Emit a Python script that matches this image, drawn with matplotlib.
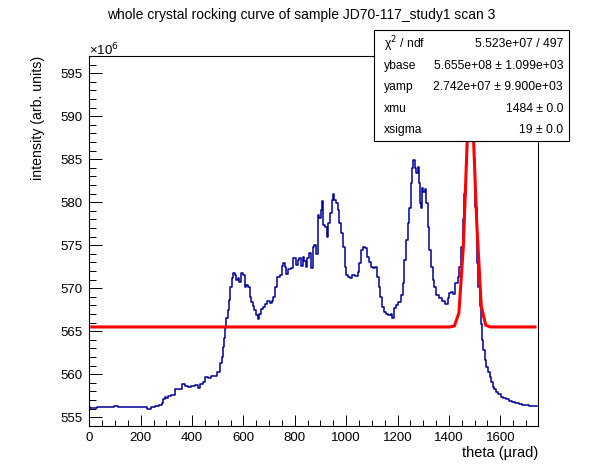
import numpy as np
import matplotlib
matplotlib.use('Agg')
from matplotlib import pyplot as plt
from matplotlib.patches import Rectangle
from matplotlib.ticker import MultipleLocator

plt.rcParams['font.family'] = ['Liberation Sans', 'DejaVu Sans']

title = 'whole crystal rocking curve of sample JD70-117_study1 scan 3'

# theta (urad) and intensity (units of 1e6)
theta = [0, 6, 25, 32, 70, 85, 105, 115, 150, 170, 200, 220, 233, 245, 265, 278, 285,
         291, 295, 304, 310, 330, 339, 356, 369, 378, 388, 404, 417, 427, 438, 447,
         456, 469, 479, 492, 503, 512, 518, 522, 526, 531, 536, 542, 546, 551, 557,
         564, 569, 574, 581, 587, 596, 603, 607, 616, 622, 626, 633, 639, 645, 652,
         659, 665, 671, 678, 688, 697, 707, 714, 720, 727, 736, 745, 752, 758, 764,
         771, 779, 788, 795, 801, 808, 814, 821, 827, 834, 840, 844, 851, 860, 866,
         873, 879, 886, 892, 899, 903, 906, 912, 921, 927, 935, 942, 947, 952, 957,
         964, 970, 977, 986, 992, 997, 1005, 1013,
         1016, 1026, 1042, 1048, 1055, 1061, 1068, 1077, 1083, 1091, 1100, 1109, 1117,
         1123, 1130, 1136, 1143, 1149, 1158, 1169, 1177, 1182, 1188, 1197, 1208, 1217,
         1223, 1230, 1236, 1243, 1249, 1256, 1260, 1264, 1269, 1275, 1282, 1286, 1288,
         1292, 1297, 1304, 1309, 1314, 1321, 1327, 1334, 1340, 1347, 1356, 1366, 1379,
         1392, 1399, 1405, 1414, 1421, 1429, 1438, 1444, 1451, 1458, 1463, 1468, 1473,
         1478, 1484, 1490, 1495, 1500, 1505, 1512, 1517, 1522, 1526, 1530, 1535, 1542,
         1548, 1555, 1561, 1568, 1574, 1580, 1587, 1597, 1606, 1616, 1626, 1639, 1652,
         1665, 1678, 1691, 1704, 1723, 1743]
intensity = [556.20, 556.05, 556.10, 556.15, 556.20, 556.15, 556.30, 556.15, 556.20,
             556.15, 556.25, 556.15, 555.97, 556.20, 556.30, 556.45, 556.65,
             557.10, 557.33, 557.20, 557.48, 557.60, 558.26, 558.30, 558.87, 558.65,
             558.56, 558.65, 558.75, 558.45, 558.87, 559.14, 559.65, 559.55, 559.80,
             559.75, 560.30, 561.28, 562.05, 563.20, 564.17, 565.33, 566.50, 567.47,
             568.64, 570.19, 571.16,
             571.81, 571.54, 570.96, 571.23, 570.77, 571.81, 571.54, 570.19, 570.38,
             570.10, 568.95, 568.44, 567.94, 567.47, 566.89, 566.39, 567.01, 567.55,
             567.86, 568.17, 568.56, 568.33, 568.56, 569.02, 570.19, 571.27, 571.54,
             572.59, 572.98, 572.43, 571.66, 572.20, 572.32, 573.48, 573.48, 572.71,
             573.29, 573.48, 572.59, 573.60, 573.21, 572.43, 573.48, 574.06, 572.32,
             574.84, 575.03, 573.99, 578.52, 578.13, 579.10, 580.19, 577.36, 577.16,
             575.92, 577.55, 578.71, 580.26, 580.96, 580.26, 579.95, 579.10, 577.55,
             576.39, 574.84, 572.51, 571.54, 571.27,
             571.16, 571.55, 571.43, 571.93, 572.90, 574.45, 574.76, 574.65, 573.68,
             573.10, 572.51, 572.32, 572.44, 571.35, 570.19, 569.03, 567.86, 567.28,
             566.97, 566.89, 567.01, 566.58, 567.67, 568.06, 568.44, 569.22, 570.58,
             573.29, 575.62, 577.55, 579.30, 582.20, 583.95, 584.92, 583.95, 583.37,
             584.14, 582.20, 579.88, 579.30, 581.62, 581.23, 581.51, 579.88, 577.17,
             574.45, 572.51, 570.96, 570.19, 569.22, 568.83, 568.56, 568.17, 568.83,
             569.49, 569.61, 569.34, 570.58, 571.35, 572.50, 574.80, 578.00, 581.00,
             584.50, 588.50, 591.50, 592.80, 592.00, 589.50, 585.00, 579.50, 572.90,
             570.20, 567.90, 565.90, 564.00, 562.83, 561.67, 560.89, 560.31, 559.73,
             559.15, 558.56, 558.26, 557.98, 557.71, 557.40, 557.29, 557.09, 556.94,
             556.82, 556.70, 556.55, 556.40, 556.43, 556.32, 556.35]

# fit parameters from the stats box
chi2_ndf = '5.523e+07 / 497'
ybase = 5.655e+08
yamp = 2.742e+07
xmu = 1484
xsigma = 19
fit_range = (10, 1735)
stat_names = ['ybase', 'yamp', 'xmu', 'xsigma']
stat_values = ['5.655e+08 \u00b1 1.099e+03', '2.742e+07 \u00b1 9.900e+03',
               '1484 \u00b1 0.0', '19 \u00b1 0.0']

fig = plt.figure(figsize=(5.98, 4.74), dpi=100)
ax = fig.add_axes([0.1493, 0.1013, 0.7509, 0.7806])

ax.plot(theta, intensity, drawstyle='steps-mid', color='#000099', lw=1.1)

xf = np.linspace(fit_range[0], fit_range[1], 100)
yf = (ybase + yamp * np.exp(-0.5 * ((xf - xmu) / xsigma) ** 2)) / 1e6
ax.plot(xf, yf, color='#ff0000', lw=2.2)

ax.set_xlim(0, 1748)
ax.set_ylim(553.99, 597.0)
ax.xaxis.set_major_locator(MultipleLocator(200))
ax.xaxis.set_minor_locator(MultipleLocator(50))
ax.yaxis.set_major_locator(MultipleLocator(5))
ax.yaxis.set_minor_locator(MultipleLocator(1))
ax.tick_params(axis='x', which='major', direction='in', length=7.9, width=0.7,
               labelsize=9.5, pad=4, top=False)
ax.tick_params(axis='x', which='minor', direction='in', length=4, width=0.7, top=False)
ax.tick_params(axis='y', which='major', direction='in', length=9.7, width=0.7,
               labelsize=9.5, pad=5, right=False)
ax.tick_params(axis='y', which='minor', direction='in', length=4.8, width=0.7, right=False)
for s in ax.spines.values():
    s.set_linewidth(0.8)

ax.set_xlabel('theta (\u00b5rad)', fontsize=10.5, loc='right', labelpad=2)
ax.set_ylabel('intensity (arb. units)', fontsize=10.2, loc='top', labelpad=11)
fig.text(0.1493, 0.878, '\u00d710$^6$', fontsize=9.5, ha='left', va='bottom')
fig.text(0.503, 0.968, title, fontsize=10, ha='center', va='center')

# stats box
bx0, bx1, by0, by1 = 374 / 598, 569 / 598, 1 - 141 / 474, 1 - 30 / 474
fig.patches.append(Rectangle((bx0, by0), bx1 - bx0, by1 - by0, transform=fig.transFigure,
                             facecolor='white', edgecolor='black', lw=0.8, zorder=5))
rows_y = [44, 66, 87, 109, 130]
names = ['\u03c7$^2$ / ndf'] + stat_names
vals = [chi2_ndf] + stat_values
for yy, nm, vv in zip(rows_y, names, vals):
    fig.text(384 / 598, 1 - yy / 474, nm, fontsize=8.7, ha='left', va='center', zorder=6)
    fig.text(563 / 598, 1 - yy / 474, vv, fontsize=8.7, ha='right', va='center', zorder=6)

fig.savefig('out.png', dpi=100)
